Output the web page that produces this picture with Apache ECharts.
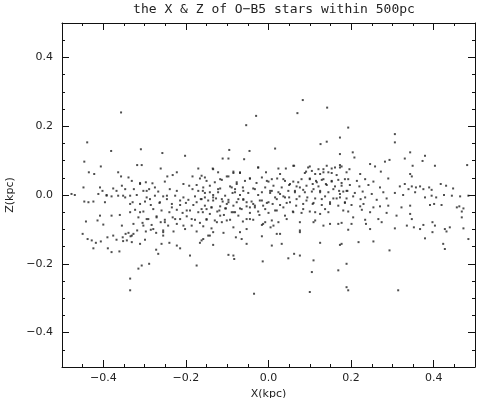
<!DOCTYPE html>
<html>
<head>
<meta charset="utf-8">
<script src="https://cdn.jsdelivr.net/npm/echarts@6/dist/echarts.min.js"></script>
<style>
  html, body { margin: 0; padding: 0; background: #fff; }
  #main { width: 479px; height: 398px; }
</style>
</head>
<body>
<div id="main"></div>
<script>
// star positions, [x kpc, z kpc]
const starsLeft = [
  [-0.357,0.24],[-0.439,0.153],[-0.381,0.128],[-0.446,0.097],[-0.406,0.083],[-0.435,0.066],[-0.422,0.061],
  [-0.364,0.066],[-0.357,0.054],[-0.339,0.051],[-0.448,0.022],[-0.408,0.022],[-0.376,0.019],[-0.355,0.027],
  [-0.347,0.017],[-0.402,0.012],[-0.477,0.003],[-0.469,0.0],[-0.412,0.003],[-0.392,0.0],[-0.380,-0.004],
  [-0.364,-0.002],[-0.347,-0.007],[-0.335,-0.002],[-0.446,-0.019],[-0.436,-0.021],[-0.424,-0.019],[-0.396,-0.021],
  [-0.335,-0.026],[-0.335,-0.050],[-0.360,-0.058],[-0.408,-0.060],[-0.442,-0.077],[-0.414,-0.074],[-0.400,-0.086],
  [-0.450,-0.113],[-0.438,-0.128],[-0.428,-0.132],[-0.418,-0.139],[-0.406,-0.135],[-0.390,-0.123],[-0.376,-0.118],
  [-0.368,-0.130],[-0.353,-0.123],[-0.346,-0.113],[-0.339,-0.110],[-0.334,-0.120],[-0.352,-0.134],[-0.343,-0.132],
  [-0.389,-0.155],[-0.424,-0.155],[-0.361,-0.164],[-0.380,-0.166],[-0.335,-0.243],[-0.335,-0.277],
  [-0.309,0.133],[-0.257,0.122],[-0.202,0.114],[-0.318,0.087],[-0.307,0.087],[-0.261,0.077],[-0.170,0.077],
  [-0.222,0.066],[-0.245,0.054],[-0.232,0.058],[-0.184,0.054],[-0.166,0.048],[-0.331,0.041],[-0.311,0.035],
  [-0.297,0.037],[-0.281,0.034],[-0.251,0.039],[-0.206,0.032],[-0.192,0.027],[-0.174,0.029],[-0.326,0.017],
  [-0.303,0.012],[-0.289,0.017],[-0.267,0.010],[-0.239,0.017],[-0.222,0.012],[-0.184,0.017],[-0.170,0.012],
  [-0.319,0.0],[-0.295,-0.007],[-0.275,-0.002],[-0.255,-0.004],[-0.246,-0.012],[-0.226,-0.002],[-0.206,-0.007],
  [-0.194,-0.014],[-0.178,-0.004],[-0.164,-0.012],[-0.329,-0.021],[-0.311,-0.026],[-0.299,-0.019],[-0.285,-0.029],
  [-0.264,-0.023],[-0.234,-0.026],[-0.214,-0.029],[-0.200,-0.023],[-0.182,-0.029],[-0.323,-0.043],[-0.303,-0.048],
  [-0.279,-0.041],[-0.259,-0.045],[-0.240,-0.050],[-0.222,-0.043],[-0.208,-0.052],[-0.190,-0.045],[-0.170,-0.050],
  [-0.315,-0.065],[-0.291,-0.070],[-0.271,-0.062],[-0.251,-0.072],[-0.232,-0.065],[-0.214,-0.070],[-0.198,-0.062],
  [-0.178,-0.072],[-0.327,-0.084],[-0.305,-0.081],[-0.283,-0.087],[-0.261,-0.079],[-0.243,-0.089],[-0.222,-0.084],
  [-0.186,-0.089],[-0.166,-0.081],[-0.318,-0.103],[-0.297,-0.106],[-0.285,-0.101],[-0.272,-0.110],[-0.255,-0.103],
  [-0.230,-0.106],[-0.202,-0.099],[-0.174,-0.106],[-0.331,-0.118],[-0.299,-0.130],[-0.255,-0.118],[-0.240,-0.139],
  [-0.259,-0.142],[-0.166,-0.139],[-0.272,-0.159],[-0.214,-0.155],[-0.267,-0.171],[-0.190,-0.176],[-0.289,-0.200],
  [-0.307,-0.205],[-0.315,-0.214],[-0.174,-0.205],
  [-0.311,0.032],[-0.295,0.012],[-0.275,0.022],[-0.287,-0.012],[-0.263,-0.021],[-0.246,-0.002],[-0.234,-0.036],
  [-0.214,-0.016],[-0.198,-0.045],[-0.311,-0.050],[-0.295,-0.070],[-0.271,-0.065],[-0.251,-0.079],[-0.226,-0.070],
  [-0.206,-0.089],[-0.303,-0.089],[-0.279,-0.099],[-0.327,-0.113],[-0.255,-0.108],[-0.186,-0.070],[-0.174,-0.021],
  [-0.352,-0.002],[-0.368,0.012],[-0.392,-0.002],[-0.380,-0.060],[-0.355,-0.089],[-0.331,-0.137],[-0.311,-0.142],
  [-0.222,-0.147]
];
const starsCentre = [
  [-0.030,0.230],[-0.054,0.203],[-0.046,0.128],[-0.095,0.131],[-0.111,0.106],[-0.097,0.106],[-0.059,0.104],
  [-0.135,0.077],[-0.025,0.080],[-0.122,0.066],[-0.085,0.068],[-0.069,0.064],[-0.006,0.066],[-0.162,0.056],
  [-0.097,0.054],[-0.045,0.048],[-0.016,0.051],[-0.150,0.041],[-0.130,0.037],[-0.113,0.044],[-0.077,0.037],
  [-0.057,0.041],[-0.029,0.035],[0.000,0.039],[-0.158,0.022],[-0.142,0.027],[-0.117,0.019],[-0.093,0.025],
  [-0.081,0.017],[-0.062,0.022],[-0.037,0.019],[-0.008,0.022],[-0.154,0.006],[-0.134,0.0],[-0.122,0.008],
  [-0.105,-0.002],[-0.087,0.006],[-0.069,0.0],[-0.049,0.006],[-0.025,0.0],[0.004,0.006],[-0.162,-0.012],
  [-0.146,-0.016],[-0.127,-0.010],[-0.111,-0.019],[-0.097,-0.014],[-0.077,-0.021],[-0.061,-0.014],[-0.041,-0.019],
  [-0.016,-0.016],[-0.004,-0.023],[-0.154,-0.031],[-0.138,-0.036],[-0.117,-0.033],[-0.103,-0.039],[-0.085,-0.031],
  [-0.069,-0.039],[-0.053,-0.033],[-0.033,-0.036],[-0.013,-0.031],[-0.159,-0.050],[-0.142,-0.055],[-0.124,-0.048],
  [-0.108,-0.058],[-0.089,-0.050],[-0.073,-0.060],[-0.045,-0.052],[-0.022,-0.058],[0.000,-0.052],[-0.150,-0.072],
  [-0.130,-0.074],[-0.113,-0.079],[-0.093,-0.072],[-0.062,-0.077],[-0.037,-0.072],[-0.008,-0.079],[-0.158,-0.091],
  [-0.138,-0.097],[-0.109,-0.110],[-0.085,-0.094],[-0.053,-0.099],[-0.016,-0.087],[0.005,-0.094],[-0.142,-0.118],
  [-0.079,-0.123],[-0.065,-0.128],[-0.016,-0.120],[-0.162,-0.132],[-0.134,-0.145],[-0.053,-0.142],[-0.097,-0.174],
  [-0.085,-0.176],[-0.083,-0.186],[-0.014,-0.193],[-0.035,-0.287],
  [0.083,0.276],[0.142,0.254],[0.070,0.238],[0.173,0.167],[0.141,0.155],[0.126,0.148],[0.016,0.135],
  [0.042,0.077],[0.062,0.085],[0.096,0.080],[0.133,0.075],[0.153,0.077],[0.173,0.080],[0.028,0.061],
  [0.088,0.064],[0.105,0.070],[0.125,0.061],[0.145,0.066],[0.165,0.058],[0.008,0.046],[0.021,0.048],
  [0.040,0.041],[0.060,0.039],[0.080,0.046],[0.100,0.048],[0.115,0.041],[0.133,0.046],[0.153,0.039],
  [0.169,0.044],[0.012,0.027],[0.032,0.022],[0.050,0.029],[0.068,0.025],[0.092,0.027],[0.107,0.032],
  [0.121,0.025],[0.141,0.029],[0.161,0.025],[0.008,0.012],[0.024,0.008],[0.048,0.012],[0.064,0.008],
  [0.084,0.015],[0.105,0.010],[0.125,0.012],[0.145,0.008],[0.171,0.012],[0.016,-0.007],[0.036,-0.004],
  [0.050,-0.007],[0.075,-0.004],[0.094,-0.007],[0.113,-0.010],[0.137,-0.004],[0.157,-0.010],[0.010,-0.026],
  [0.028,-0.029],[0.044,-0.023],[0.067,-0.031],[0.084,-0.026],[0.109,-0.023],[0.129,-0.029],[0.149,-0.026],
  [0.169,-0.031],[0.020,-0.045],[0.040,-0.060],[0.059,-0.048],[0.080,-0.052],[0.100,-0.048],[0.125,-0.055],
  [0.145,-0.050],[0.012,-0.089],[0.024,-0.079],[0.076,-0.079],[0.113,-0.074],[0.169,-0.084],[0.028,-0.113],
  [0.076,-0.108],[0.133,-0.089],[0.008,-0.147],[0.032,-0.142],[0.125,-0.139],[0.173,-0.145],[0.062,-0.171],
  [0.076,-0.176],[0.048,-0.184],[0.109,-0.190],[0.105,-0.224],[0.169,-0.219],[0.100,-0.282]
];
// extra stars from the densest part of the band
const starsDense = [
  [-0.134,0.075],[-0.085,0.064],[-0.069,0.066],[-0.025,0.080],[0.024,0.077],[0.060,0.085],[0.100,0.083],
  [0.121,0.075],[0.141,0.085],[0.161,0.080],[0.173,0.087],[0.091,0.068],[0.113,0.061],[0.133,0.066],
  [0.153,0.064],[0.189,0.066],[-0.154,0.051],[-0.117,0.046],[-0.101,0.054],[-0.077,0.032],[-0.045,0.048],
  [-0.004,0.041],[0.036,0.046],[0.052,0.032],[0.072,0.037],[0.100,0.046],[0.117,0.037],[0.129,0.044],
  [0.139,0.032],[0.153,0.041],[0.177,0.035],[0.193,0.046],[-0.159,0.012],[-0.142,0.008],[-0.122,0.017],
  [-0.089,0.022],[-0.081,0.008],[-0.061,0.012],[-0.033,0.017],[-0.016,0.008],[0.004,0.012],[0.028,0.003],
  [0.064,0.012],[0.076,0.022],[0.088,0.008],[0.109,0.017],[0.125,0.008],[0.157,0.017],[0.173,0.003],
  [0.189,0.012],[-0.154,-0.007],[-0.134,-0.016],[-0.113,-0.012],[-0.097,-0.021],[-0.073,-0.012],[-0.053,-0.021],
  [-0.037,-0.026],[-0.021,-0.016],[0.000,-0.021],[0.020,-0.012],[0.040,-0.007],[0.052,-0.021],[0.068,-0.012],
  [0.092,-0.016],[0.107,-0.026],[0.129,-0.012],[0.149,-0.021],[0.165,-0.010],[0.185,-0.021],[-0.162,-0.041],
  [-0.138,-0.036],[-0.119,-0.045],[-0.105,-0.039],[-0.085,-0.050],[-0.065,-0.041],[-0.045,-0.036],[-0.025,-0.048],
  [-0.008,-0.041],[0.016,-0.045],[0.036,-0.036],[0.060,-0.050],[0.084,-0.041],[0.113,-0.050],[0.137,-0.041],
  [0.181,-0.045],[-0.150,-0.070],[-0.125,-0.079],[-0.101,-0.074],[-0.053,-0.070],[-0.013,-0.084],[0.008,-0.074],
  [0.044,-0.070],[0.076,-0.103],[0.109,-0.079],[0.149,-0.084],[-0.146,-0.118],[-0.069,-0.108],[0.020,-0.113],
  [-0.150,-0.041],[-0.134,-0.007],[-0.117,-0.060],[-0.101,-0.026],[-0.081,-0.050],[-0.061,-0.012],[-0.045,-0.070],
  [-0.033,-0.031],[-0.158,-0.128],[-0.134,-0.108]
];
const starsRight = [
  [0.193,0.196],[0.306,0.177],[0.306,0.153],[0.343,0.124],[0.204,0.124],[0.208,0.109],[0.173,0.119],
  [0.282,0.097],[0.293,0.102],[0.330,0.106],[0.246,0.090],[0.258,0.083],[0.177,0.083],[0.196,0.075],
  [0.272,0.068],[0.222,0.061],[0.290,0.048],[0.343,0.061],[0.185,0.046],[0.214,0.041],[0.234,0.046],
  [0.254,0.039],[0.330,0.032],[0.177,0.027],[0.197,0.029],[0.220,0.025],[0.242,0.029],[0.270,0.022],
  [0.318,0.025],[0.339,0.017],[0.181,0.010],[0.191,0.012],[0.209,0.006],[0.228,0.010],[0.250,0.003],
  [0.278,0.008],[0.306,0.006],[0.326,0.0],[0.173,-0.007],[0.189,-0.010],[0.205,-0.004],[0.223,-0.012],
  [0.234,-0.007],[0.262,-0.014],[0.286,-0.010],[0.185,-0.023],[0.201,-0.029],[0.222,-0.033],[0.230,-0.026],
  [0.254,-0.036],[0.270,-0.033],[0.290,-0.031],[0.322,-0.036],[0.343,-0.031],[0.193,-0.048],[0.226,-0.043],
  [0.246,-0.050],[0.286,-0.052],[0.310,-0.060],[0.205,-0.065],[0.234,-0.072],[0.266,-0.070],[0.177,-0.081],
  [0.201,-0.084],[0.236,-0.084],[0.274,-0.079],[0.306,-0.097],[0.335,-0.089],[0.193,-0.101],[0.246,-0.099],
  [0.177,-0.142],[0.218,-0.137],[0.254,-0.135],[0.293,-0.161],[0.189,-0.200],[0.189,-0.268],[0.193,-0.277],
  [0.314,-0.277],
  [0.379,0.114],[0.373,0.099],[0.349,0.085],[0.403,0.085],[0.481,0.087],[0.347,0.054],[0.347,0.025],
  [0.357,0.022],[0.367,0.025],[0.375,0.017],[0.389,0.022],[0.395,0.015],[0.417,0.032],[0.430,0.027],
  [0.447,0.019],[0.355,0.008],[0.379,-0.007],[0.395,-0.002],[0.406,-0.007],[0.425,0.0],[0.444,-0.002],
  [0.464,-0.004],[0.484,-0.002],[0.391,-0.029],[0.401,-0.026],[0.419,-0.029],[0.456,-0.036],[0.462,-0.033],
  [0.472,-0.039],[0.468,-0.048],[0.343,-0.055],[0.347,-0.070],[0.468,-0.065],[0.352,-0.094],[0.367,-0.099],
  [0.375,-0.087],[0.397,-0.079],[0.403,-0.089],[0.427,-0.099],[0.431,-0.106],[0.439,-0.094],[0.472,-0.097],
  [0.397,-0.108],[0.379,-0.126],[0.423,-0.142],[0.427,-0.157],[0.484,-0.128]
];
const stars = starsLeft.concat(starsCentre, starsDense, starsRight);

const majorTicks = [-0.4, -0.2, 0, 0.2, 0.4];
const titleText = 'the X & Z of O\u2212B5 stars within 500pc';

const labelFont = { fontFamily: 'DejaVu Sans', fontSize: 11, color: '#222' };
const fmt = v => (v < 0 ? '\u2212' : '') + Math.abs(v).toFixed(1);

function majorAxis(pos, withLabels, name) {
  return {
    type: 'value', position: pos, min: -0.5, max: 0.5,
    axisLine: { show: true, onZero: false, lineStyle: { color: '#111', width: 1 } },
    axisTick: { show: true, inside: true, length: 7, customValues: majorTicks, lineStyle: { color: '#111' } },
    axisLabel: withLabels
      ? Object.assign({ show: true, customValues: majorTicks, formatter: fmt }, labelFont)
      : { show: false },
    splitLine: { show: false },
    name: name || '',
    nameLocation: 'middle',
    nameTextStyle: labelFont
  };
}
function minorAxis(pos) {
  return {
    type: 'value', position: pos, min: -0.5, max: 0.5, interval: 0.05,
    axisLine: { show: false, onZero: false },
    axisTick: { show: true, inside: true, length: 3, lineStyle: { color: '#111' } },
    axisLabel: { show: false },
    splitLine: { show: false }
  };
}

const xBottom = majorAxis('bottom', true, 'X(kpc)');
xBottom.nameGap = 11;
xBottom.axisLabel.margin = 6;
const yLeft = majorAxis('left', true, 'Z(kpc)');
yLeft.nameGap = 41;
yLeft.axisLabel.margin = 9;

const chart = echarts.init(document.getElementById('main'));
chart.setOption({
  animation: false,
  backgroundColor: '#fff',
  title: {
    text: titleText, left: 269, top: -2, textAlign: 'center',
    textStyle: { fontFamily: 'DejaVu Sans Mono', fontSize: 13, fontWeight: 'normal', color: '#222' }
  },
  grid: { left: 62, right: 4, top: 23, bottom: 31, outerBoundsMode: 'none' },
  xAxis: [xBottom, minorAxis('bottom'), majorAxis('top', false), minorAxis('top')],
  yAxis: [yLeft, minorAxis('left'), majorAxis('right', false), minorAxis('right')],
  series: [{
    type: 'scatter',
    xAxisIndex: 0, yAxisIndex: 0,
    symbol: 'rect', symbolSize: 2,
    itemStyle: { color: '#222', opacity: 0.8 },
    data: stars
  }]
});
</script>
</body>
</html>
